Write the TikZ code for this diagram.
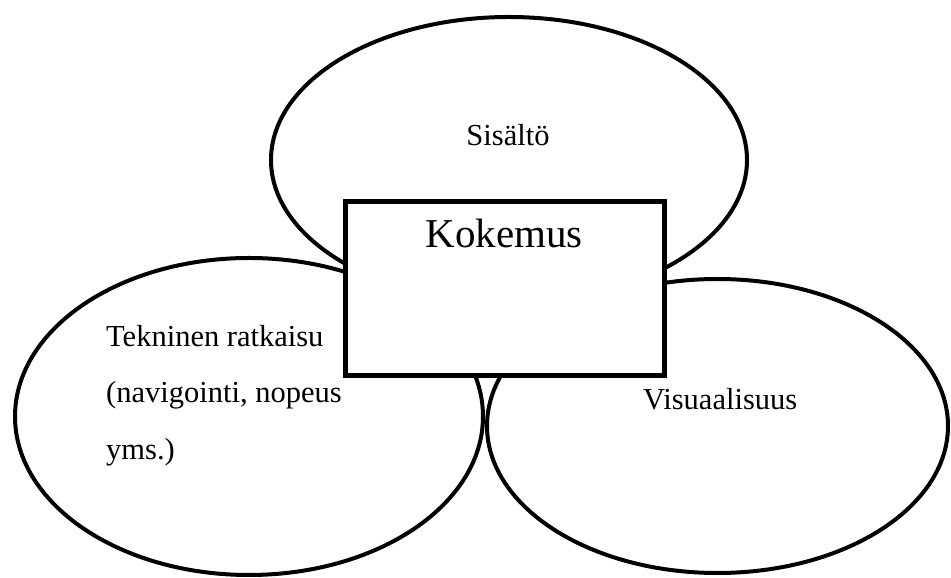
\documentclass[tikz,border=0pt]{standalone}
\usepackage{fontspec}
\setmainfont{Liberation Serif}
\begin{document}
\begin{tikzpicture}[x=1pt,y=1pt,
  oval/.style={line width=4pt},
  core/.style={draw,fill=white,line width=5pt},
  lbl/.style={font=\fontsize{30.5}{36}\selectfont,inner sep=0pt},
  title/.style={font=\fontsize{41}{48}\selectfont,inner sep=0pt}]
\useasboundingbox (0,0) rectangle (951,578);
% centres of the three areas
\coordinate (sis) at (509,418);
\coordinate (tek) at (249,161.5);
\coordinate (vis) at (717.5,152);
% the three overlapping ovals
\draw[oval] (sis) ellipse [x radius=238, y radius=143];
\draw[oval] (tek) ellipse [x radius=234, y radius=158.5];
\draw[oval] (vis) ellipse [x radius=230.5, y radius=147];
% central box
\draw[core] (345.5,202.5) rectangle (664.5,376.5);
% labels
\node[title,anchor=base] (kok) at (504,330) {Kokemus};
\node[lbl,anchor=base] (sisl) at (508,432) {Sisältö};
\node[lbl,anchor=base west] (tek1) at (106,231) {Tekninen ratkaisu};
\node[lbl,anchor=base west] (tek2) at (106,175) {(navigointi, nopeus};
\node[lbl,anchor=base west] (tek3) at (106,118) {yms.)};
\node[lbl,anchor=base west] (visl) at (643,168) {Visuaalisuus};
\end{tikzpicture}
\end{document}
